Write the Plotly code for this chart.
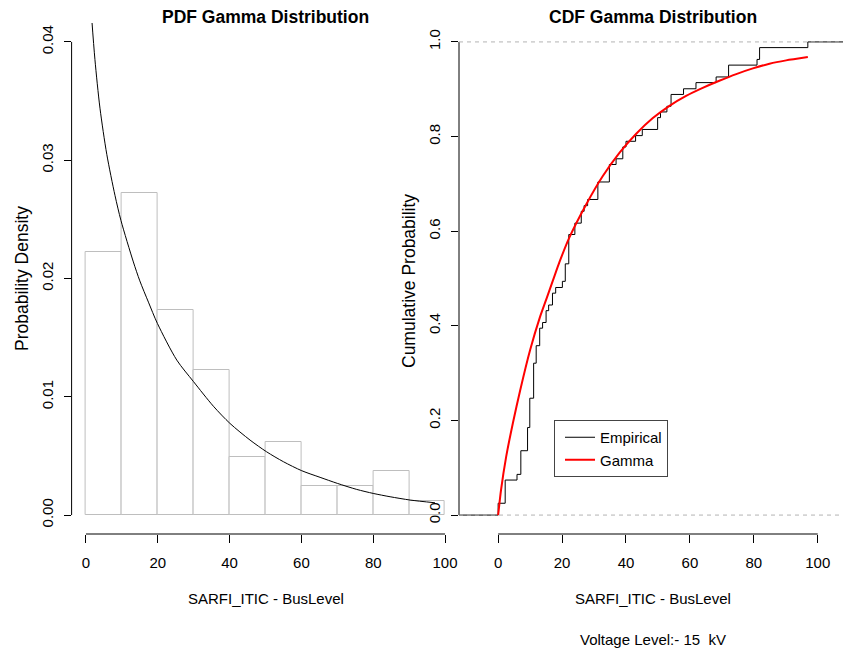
import plotly.graph_objects as go

# ---------------- data ----------------
hist_left = [0, 10, 20, 30, 40, 50, 60, 70, 80, 90]
hist_right = [10, 20, 30, 40, 50, 60, 70, 80, 90, 100]
hist_density = [0.0222, 0.0272, 0.0173, 0.0123, 0.0049, 0.0062, 0.0025, 0.0025, 0.0037, 0.0012]

pdf_x = [1.6, 2.5, 3.9, 5.8, 8.1, 9.75, 13.2, 15.0, 17.4, 19.9, 25.3, 29.9, 35.5, 40.1,
         45.7, 50.3, 55.0, 60.1, 65.2, 70.0, 75.4, 80.0, 84.7, 90.3, 97.2]
pdf_y = [0.0420, 0.0385, 0.0344, 0.0305, 0.0270, 0.0249, 0.0214, 0.0198, 0.0180, 0.0162,
         0.0131, 0.0113, 0.0092, 0.00775, 0.00634, 0.00535, 0.00451, 0.00375, 0.00319,
         0.00268, 0.00217, 0.00183, 0.00155, 0.00127, 0.00104]

ecdf_x = [0.0, 2.2, 5.9, 7.1, 9.2, 9.9, 11.1, 11.9, 13.0, 13.9, 15.0, 15.8, 17.0, 18.0,
          20.1, 21.0, 22.1, 24.0, 26.0, 26.9, 28.0, 31.2, 34.8, 36.9, 39.0, 40.0, 43.0,
          45.1, 49.9, 50.8, 52.8, 54.1, 58.0, 61.9, 68.2, 72.1, 81.0, 81.8, 96.9]
ecdf_p = [0.025, 0.074, 0.086, 0.136, 0.185, 0.247, 0.321, 0.358, 0.395, 0.407, 0.432,
          0.444, 0.469, 0.481, 0.494, 0.531, 0.593, 0.617, 0.642, 0.654, 0.667, 0.704,
          0.741, 0.753, 0.778, 0.790, 0.802, 0.815, 0.840, 0.852, 0.864, 0.889, 0.901,
          0.914, 0.926, 0.951, 0.963, 0.988, 1.0]

cdf_x = [0.0, 0.9, 2.5, 4.6, 6.9, 10.0, 13.1, 15.0, 17.2, 19.2, 22.3, 27.5, 32.7, 38.0,
         43.2, 48.4, 53.6, 58.8, 64.0, 69.2, 74.5, 79.7, 84.9, 90.1, 96.9]
cdf_y = [0.0, 0.053, 0.123, 0.194, 0.264, 0.349, 0.419, 0.455, 0.497, 0.535, 0.587,
         0.656, 0.716, 0.766, 0.806, 0.839, 0.865, 0.886, 0.903, 0.918, 0.932, 0.944,
         0.954, 0.961, 0.968]

x_ticks = [0, 20, 40, 60, 80, 100]
pdf_ticks = [0.00, 0.01, 0.02, 0.03, 0.04]
pdf_tick_text = ["0.00", "0.01", "0.02", "0.03", "0.04"]
cdf_ticks = [0.0, 0.2, 0.4, 0.6, 0.8, 1.0]
cdf_tick_text = ["0.0", "0.2", "0.4", "0.6", "0.8", "1.0"]

# ---------------- figure ----------------
W, H = 843, 653
FONT = "Liberation Sans, Arial, Helvetica, sans-serif"

fig = go.Figure()

centers = [(a + b) / 2 for a, b in zip(hist_left, hist_right)]
widths = [b - a for a, b in zip(hist_left, hist_right)]
fig.add_trace(go.Bar(x=centers, y=hist_density, width=widths,
                     marker=dict(color="white", line=dict(color="#BEBEBE", width=1)),
                     showlegend=False, hoverinfo="skip", xaxis="x", yaxis="y"))
fig.add_trace(go.Scatter(x=pdf_x, y=pdf_y, mode="lines",
                         line=dict(color="black", width=1, shape="spline", smoothing=0.8),
                         showlegend=False, xaxis="x", yaxis="y"))

# ECDF: extend horizontal segments to beyond plot edges (clipped by axes)
ex = [-30.0] + ecdf_x + [130.0]
ey = [0.0] + ecdf_p + [1.0]
fig.add_trace(go.Scatter(x=ex, y=ey, mode="lines", name="Empirical",
                         line=dict(color="black", width=1, shape="hv"),
                         xaxis="x2", yaxis="y2"))
fig.add_trace(go.Scatter(x=cdf_x, y=cdf_y, mode="lines", name="Gamma",
                         line=dict(color="#FF0000", width=2, shape="spline", smoothing=0.6),
                         xaxis="x2", yaxis="y2"))

ydom = [1 - 534 / H, 1 - 23 / H]
tickfont = dict(family=FONT, size=15, color="black")

common_x = dict(showgrid=False, zeroline=False, showline=False, ticks="outside",
                ticklen=8, tickwidth=1, tickcolor="black", tickvals=x_ticks,
                tickfont=tickfont, automargin=False, ticklabelstandoff=7)
common_y = dict(showgrid=False, zeroline=False, showline=False, ticks="outside",
                ticklen=7, tickwidth=1, tickcolor="black", tickangle=-90,
                tickfont=tickfont, automargin=False, ticklabelstandoff=5)

fig.update_layout(
    template="none",
    width=W, height=H,
    margin=dict(l=0, r=0, t=0, b=0),
    paper_bgcolor="white", plot_bgcolor="rgba(0,0,0,0)",
    bargap=0,
    font=dict(family=FONT, size=15, color="black"),
    xaxis=dict(domain=[71.6 / W, 459.4 / W], range=[-4, 104], anchor="y", **common_x),
    yaxis=dict(domain=ydom, range=[-0.0016, 0.0416], anchor="x",
               tickvals=pdf_ticks, ticktext=pdf_tick_text, **common_y),
    xaxis2=dict(domain=[459 / W, 1.0], range=[-12.25, 107.9], anchor="y2", **common_x),
    yaxis2=dict(domain=ydom, range=[-0.04, 1.04], anchor="x2",
                tickvals=cdf_ticks, ticktext=cdf_tick_text, **common_y),
    legend=dict(x=554 / W, y=1 - 420 / H, xanchor="left", yanchor="top",
                bgcolor="white", bordercolor="#444444", borderwidth=1,
                font=dict(family=FONT, size=15, color="black"),
                itemwidth=30, tracegroupgap=0, indentation=5),
    showlegend=True,
)

shapes = [
    # axis lines (R style: only between first and last ticks)
    dict(type="line", xref="x", yref="y domain", x0=0, x1=100, y0=0, y1=0,
         line=dict(color="black", width=1)),
    dict(type="line", xref="x domain", yref="y", x0=0, x1=0, y0=0, y1=0.04,
         line=dict(color="black", width=1)),
    dict(type="line", xref="x2", yref="y2 domain", x0=0, x1=100, y0=0, y1=0,
         line=dict(color="black", width=1)),
    dict(type="line", xref="x2 domain", yref="y2", x0=0, x1=0, y0=0, y1=1,
         line=dict(color="black", width=1)),
    # dashed reference lines at 0 and 1
    dict(type="line", xref="x2 domain", yref="y2", x0=0, x1=1, y0=0, y1=0,
         line=dict(color="#B3B3B3", width=1, dash="4px,4px"), layer="above"),
    dict(type="line", xref="x2 domain", yref="y2", x0=0, x1=1, y0=1, y1=1,
         line=dict(color="#B3B3B3", width=1, dash="4px,4px"), layer="above"),
]
fig.update_layout(shapes=shapes)

def ann(text, x, y, size=15, bold=False, angle=0):
    return dict(text=f"<b>{text}</b>" if bold else text, x=x / W, y=1 - y / H,
                xref="paper", yref="paper", xanchor="center", yanchor="middle",
                showarrow=False, textangle=angle,
                font=dict(family=FONT, size=size, color="black"))

fig.update_layout(annotations=[
    ann("PDF Gamma Distribution", 265.5, 17, size=17.5, bold=True),
    ann("CDF Gamma Distribution", 653.3, 17, size=17.5, bold=True),
    ann("Probability Density", 22, 279, size=17.5, angle=-90),
    ann("Cumulative Probability", 409, 281, size=17.5, angle=-90),
    ann("SARFI_ITIC - BusLevel", 265.5, 598),
    ann("SARFI_ITIC - BusLevel", 653.3, 598),
    ann("Voltage Level:- 15\u00a0 kV", 653.3, 639),
])

fig.write_html(
    "out.html",
    config={"displayModeBar": False},
    post_script="document.body.style.margin='0';document.body.style.padding='0';"
                "document.body.style.overflow='hidden';",
)
